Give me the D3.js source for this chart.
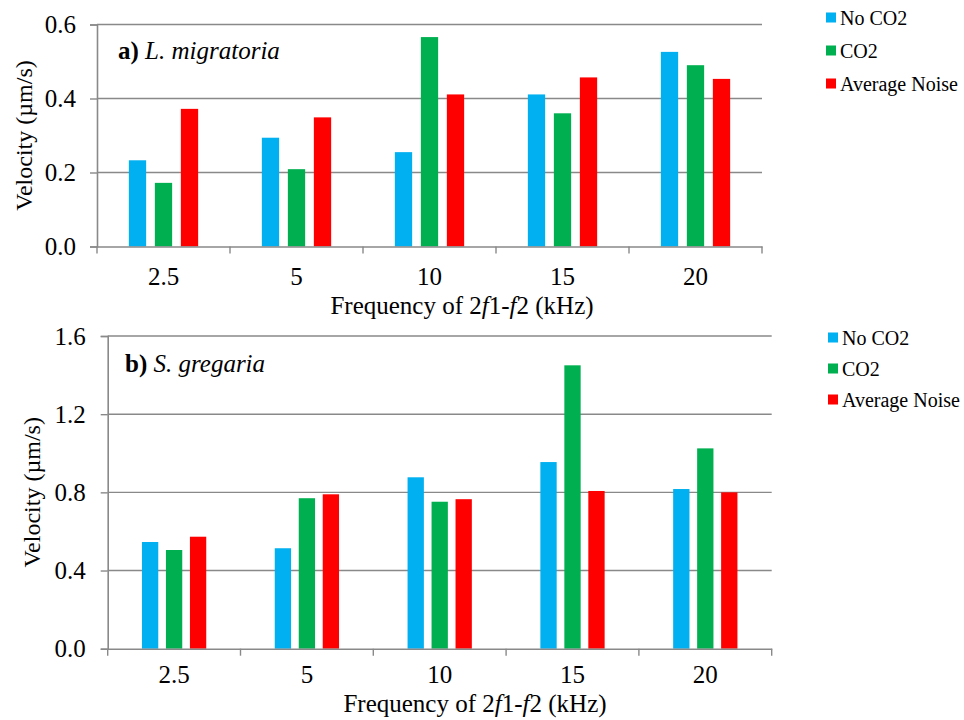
<!DOCTYPE html>
<html>
<head>
<meta charset="utf-8">
<script src="https://cdn.jsdelivr.net/npm/d3@7"></script>
<style>
  html, body { margin: 0; padding: 0; background: #fff; }
  svg { display: block; }
  svg text { font-family: "Liberation Serif", "Times New Roman", Times, serif; fill: #000; }
</style>
</head>
<body>
<svg id="chart" width="964" height="720"></svg>
<script>
// ---- Data ----
const categories = ["2.5", "5", "10", "15", "20"];
const seriesNames = ["No CO2", "CO2", "Average Noise"];
const seriesColors = ["#00B0F0", "#00B050", "#FF0000"];

// Panel a) L. migratoria
const aNoCO2 = [0.233, 0.294, 0.255, 0.411, 0.526];
const aCO2   = [0.172, 0.209, 0.566, 0.360, 0.490];
const aNoise = [0.372, 0.349, 0.411, 0.457, 0.453];
const aTicks = [0, 0.2, 0.4, 0.6];

// Panel b) S. gregaria
const bNoCO2 = [0.546, 0.514, 0.877, 0.955, 0.817];
const bCO2   = [0.505, 0.770, 0.752, 1.450, 1.025];
const bNoise = [0.573, 0.790, 0.765, 0.807, 0.800];
const bTicks = [0, 0.4, 0.8, 1.2, 1.6];

const FONT = '"Liberation Serif", "Times New Roman", Times, serif';
const svg = d3.select("#chart");
const gridColor = "#898989";

function panel(cfg) {
  const g = svg.append("g").attr("font-family", FONT);
  const series = [cfg.s1, cfg.s2, cfg.s3];
  const x = d3.scaleBand().domain(categories).range([cfg.x0, cfg.x1]).padding(0);
  const y = d3.scaleLinear().domain([0, cfg.ticks[cfg.ticks.length - 1]]).range([cfg.y0, cfg.y1]);
  const groupW = x.bandwidth() * cfg.groupFrac;
  const xs = d3.scaleBand().domain(seriesNames).range([-groupW / 2, groupW / 2])
    .paddingInner(cfg.innerPad).paddingOuter(0);

  // gridlines (excluding zero)
  g.selectAll(".grid").data(cfg.ticks.filter(t => t > 0)).enter().append("line")
    .attr("x1", cfg.x0).attr("x2", cfg.x1)
    .attr("y1", d => y(d)).attr("y2", d => y(d))
    .attr("stroke", gridColor).attr("stroke-width", 1.4);

  // bars
  series.forEach((vals, si) => {
    g.selectAll(".bar" + si).data(vals).enter().append("rect")
      .attr("x", (d, i) => x(categories[i]) + x.bandwidth() / 2 + xs(seriesNames[si]))
      .attr("width", xs.bandwidth())
      .attr("y", d => y(d))
      .attr("height", d => y(0) - y(d))
      .attr("fill", seriesColors[si]);
  });

  // y axis
  const yAxis = d3.axisLeft(y).tickValues(cfg.ticks).tickFormat(d3.format(".1f"))
    .tickSize(7).tickPadding(cfg.tickPad);
  const ya = g.append("g").attr("transform", `translate(${cfg.x0},0)`).call(yAxis)
    .attr("font-family", FONT).attr("font-size", 25);
  ya.select(".domain").attr("stroke", gridColor).attr("stroke-width", 1.6);
  ya.selectAll(".tick line").attr("stroke", gridColor).attr("stroke-width", 1.4);
  ya.selectAll(".tick text").attr("fill", "#000");

  // x axis
  const xa = g.append("g").attr("transform", `translate(0,${cfg.y0})`)
    .call(d3.axisBottom(x).tickSize(0).tickPadding(cfg.xTickPad))
    .attr("font-family", FONT).attr("font-size", 25);
  xa.select(".domain").attr("stroke", gridColor).attr("stroke-width", 1.6);
  xa.selectAll(".tick text").attr("fill", "#000");
  // category boundary tick marks
  const bounds = d3.range(categories.length + 1).map(i => cfg.x0 + i * x.step());
  g.selectAll(".xtick").data(bounds).enter().append("line")
    .attr("x1", d => d).attr("x2", d => d)
    .attr("y1", cfg.y0).attr("y2", cfg.y0 + 7)
    .attr("stroke", gridColor).attr("stroke-width", 1.4);

  // y axis title
  g.append("text")
    .attr("transform", `translate(${cfg.yTitleX},${(cfg.y0 + cfg.y1) / 2}) rotate(-90)`)
    .attr("text-anchor", "middle").attr("font-size", 24)
    .text("Velocity (µm/s)");

  // x axis title
  const xt = g.append("text").attr("x", cfg.xTitleX).attr("y", cfg.xTitleY)
    .attr("text-anchor", "middle").attr("font-size", 25);
  xt.append("tspan").text("Frequency of 2");
  xt.append("tspan").attr("font-style", "italic").text("f");
  xt.append("tspan").text("1-");
  xt.append("tspan").attr("font-style", "italic").text("f");
  xt.append("tspan").text("2 (kHz)");

  // panel label
  const pl = g.append("text").attr("x", cfg.labelX).attr("y", cfg.labelY).attr("font-size", 25);
  pl.append("tspan").attr("font-weight", "bold").text(cfg.letter + ")");
  pl.append("tspan").attr("font-style", "italic").text(" " + cfg.species);

  // legend
  const lg = g.append("g");
  seriesNames.forEach((name, i) => {
    const cy = cfg.legY + i * cfg.legStep;
    lg.append("rect").attr("x", cfg.legX).attr("y", cy - 5).attr("width", 10).attr("height", 10)
      .attr("fill", seriesColors[i]);
    lg.append("text").attr("x", cfg.legX + 14).attr("y", cy).attr("dy", "0.35em")
      .attr("font-size", 20).text(name);
  });
}

panel({
  s1: aNoCO2, s2: aCO2, s3: aNoise, ticks: aTicks,
  x0: 97, x1: 762, y0: 246.5, y1: 24.5,
  groupFrac: 0.521, innerPad: 0.335, tickPad: 14, xTickPad: 20.5,
  yTitleX: 32, xTitleX: 462, xTitleY: 314,
  letter: "a", species: "L. migratoria", labelX: 118, labelY: 59,
  legX: 826, legY: 17.5, legStep: 33
});

panel({
  s1: bNoCO2, s2: bCO2, s3: bNoise, ticks: bTicks,
  x0: 107.7, x1: 771.7, y0: 648.7, y1: 336,
  groupFrac: 0.484, innerPad: 0.32, tickPad: 15, xTickPad: 16.5,
  yTitleX: 40, xTitleX: 475, xTitleY: 712,
  letter: "b", species: "S. gregaria", labelX: 125, labelY: 372,
  legX: 828, legY: 337.5, legStep: 31
});
</script>
</body>
</html>
